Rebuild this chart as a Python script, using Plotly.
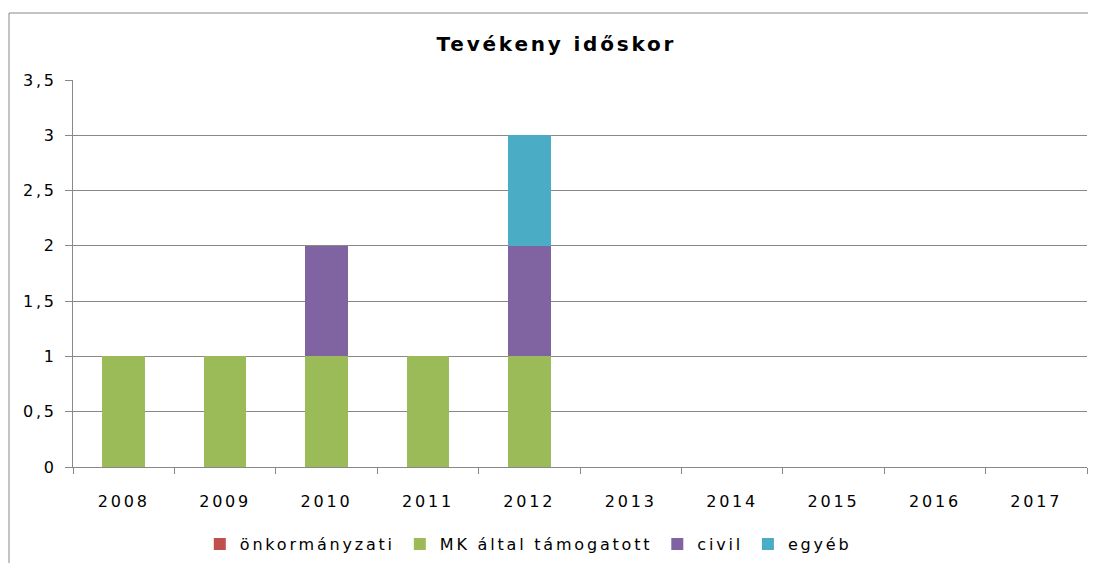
import plotly.graph_objects as go

years = ["2008", "2009", "2010", "2011", "2012", "2013", "2014", "2015", "2016", "2017"]
onkormanyzati = [0, 0, 0, 0, 0, 0, 0, 0, 0, 0]
mk_altal = [1, 1, 1, 1, 1, 0, 0, 0, 0, 0]
civil = [0, 0, 1, 0, 1, 0, 0, 0, 0, 0]
egyeb = [0, 0, 0, 0, 1, 0, 0, 0, 0, 0]
y_ticks = [0, 0.5, 1, 1.5, 2, 2.5, 3, 3.5]

series = [
    ("önkormányzati", onkormanyzati, "#C0504D"),
    ("MK által támogatott", mk_altal, "#9BBB59"),
    ("civil", civil, "#8064A2"),
    ("egyéb", egyeb, "#4BACC6"),
]

fig = go.Figure()
for name, vals, color in series:
    fig.add_trace(go.Bar(x=years, y=vals, name=name, marker=dict(color=color, line=dict(width=0))))

grid = "#888888"
W, H = 1088, 555
fig.update_layout(
    barmode="stack",
    bargap=0.58,
    width=W, height=H,
    margin=dict(l=65, r=9, t=72, b=96, autoexpand=False),
    paper_bgcolor="white", plot_bgcolor="white",
    separators=", ",
    font=dict(family="DejaVu Sans", size=16, color="black"),
    title=dict(text="<b>Tevékeny időskor</b>", font=dict(size=20), x=0.504, xanchor="center",
               y=1 - 36 / H, yanchor="middle"),
    legend=dict(orientation="h", x=0.449, xanchor="center", y=-0.199, yanchor="middle",
                font=dict(size=16), traceorder="normal"),
    xaxis=dict(showgrid=False, showline=True, linecolor=grid, linewidth=1,
               ticks="outside", tickson="boundaries", ticklen=6, tickcolor=grid,
               tickfont=dict(size=16), ticklabelstandoff=20, automargin=False),
    yaxis=dict(range=[0, 3.5], tickvals=y_ticks, showgrid=True, gridcolor=grid, gridwidth=1,
               showline=True, linecolor=grid, linewidth=1, ticks="outside", ticklen=7,
               tickcolor=grid, zeroline=False, tickfont=dict(size=16), ticklabelstandoff=5,
               automargin=False),
    shapes=[
        dict(type="line", xref="paper", yref="paper", x0=-64 / 1014, x1=1.2,
             y0=(459 - 5) / 387, y1=(459 - 5) / 387, line=dict(color="#888888", width=1)),
        dict(type="line", xref="paper", yref="paper", x0=-64 / 1014, x1=-64 / 1014,
             y0=(459 - 5) / 387, y1=-0.5, line=dict(color="#888888", width=1)),
    ],
)

post = """
var s = document.createElement('style');
s.textContent = 'svg text { letter-spacing: 2.8px; }';
document.head.appendChild(s);
var gd = document.getElementById('{plot_id}');
Plotly.relayout(gd, {'font.family': 'DejaVu Sans, sans-serif'});
"""

fig.write_html("out.html", post_script=post)
